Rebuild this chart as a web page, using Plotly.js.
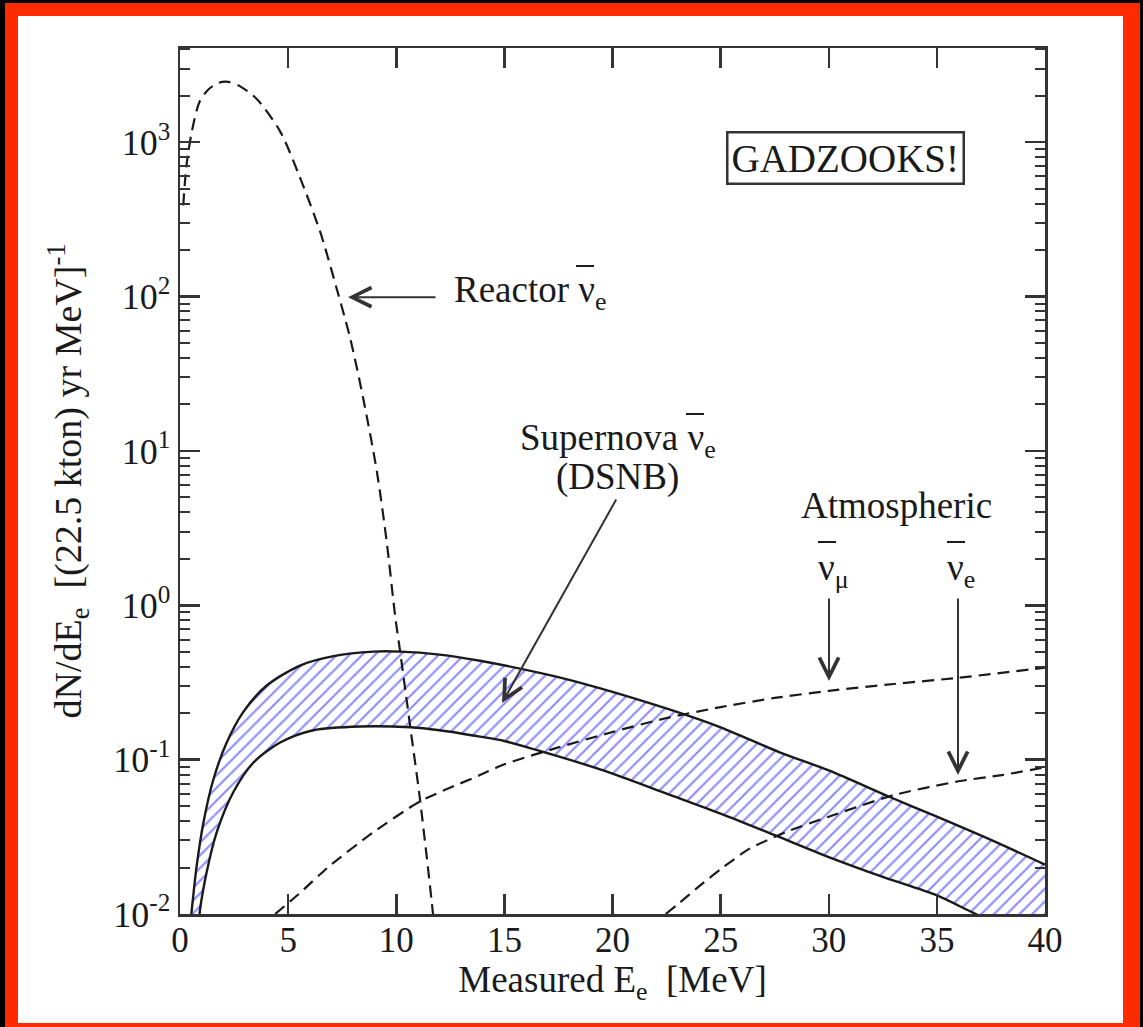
<!DOCTYPE html>
<html>
<head>
<meta charset="utf-8">
<script src="https://cdn.plot.ly/plotly-3.0.1.min.js"></script>
<style>
html,body{margin:0;padding:0;background:#000;}
#chart{width:1143px;height:1027px;}
</style>
</head>
<body>
<div id="chart"></div>
<script>
// ---- data (E in MeV, rate in events per 22.5 kton-yr-MeV) ----
const reactorE    = [0.15, 0.3, 0.55, 0.9, 1.3, 1.8, 2.24, 2.8, 3.55, 4.63, 5.55, 6.48, 7.25, 7.87, 8.48, 9.10, 9.56, 9.95, 10.18, 10.65, 11.1, 11.7, 11.9];
const reactorRate = [389, 708, 1175, 1820, 2188, 2427, 2455, 2291, 1905, 1175, 589, 263, 112, 53.7, 21.6, 7.41, 2.57, 0.85, 0.50, 0.162, 0.055, 0.010, 0.005];

const dsnbHighE    = [0.45, 0.54, 0.77, 1.08, 1.54, 2.16, 2.93, 4.01, 5.55, 7.1, 8.95, 10.18, 12, 13.87, 17, 18.98, 20, 22.98, 25, 27.7, 30, 32.8, 35, 37.5, 40];
const dsnbHighRate = [0.0079, 0.0105, 0.0204, 0.0389, 0.0741, 0.129, 0.204, 0.302, 0.407, 0.468, 0.501, 0.501, 0.479, 0.437, 0.355, 0.302, 0.275, 0.204, 0.162, 0.112, 0.0851, 0.0575, 0.0427, 0.0302, 0.0209];

const dsnbLowE    = [0.85, 0.92, 1.23, 1.70, 2.47, 3.39, 4.63, 6.17, 8.33, 10.65, 12, 13.87, 15, 17.5, 20, 22.5, 25, 27.5, 30, 32.5, 35, 36.8, 38.5, 40];
const dsnbLowRate = [0.0079, 0.0105, 0.0186, 0.0339, 0.0617, 0.0955, 0.129, 0.155, 0.164, 0.162, 0.155, 0.141, 0.132, 0.105, 0.0813, 0.0603, 0.0447, 0.0324, 0.0234, 0.0174, 0.0132, 0.0100, 0.0079, 0.0063];

const atmMuE    = [4.4, 5.5, 6.9, 8.95, 11.1, 13.87, 15, 17.5, 20, 22.5, 25, 27.5, 30, 33, 36, 40];
const atmMuRate = [0.0100, 0.0135, 0.0204, 0.0339, 0.0537, 0.0794, 0.0933, 0.120, 0.151, 0.186, 0.219, 0.251, 0.279, 0.309, 0.339, 0.394];

const atmEE    = [22.46, 23, 24, 25, 26.3, 28, 30, 33, 36, 38, 40];
const atmERate = [0.0100, 0.0115, 0.0151, 0.0195, 0.0263, 0.0339, 0.0427, 0.0589, 0.0724, 0.0794, 0.0891];

const xTickVals   = [0, 5, 10, 15, 20, 25, 30, 35, 40];
const yTickPowers = [-2, -1, 0, 1, 2, 3];
const yTickLabels = yTickPowers.map(p => '10<sup>' + (p < 0 ? '-' + (-p) : p) + '</sup>');

// ---- layout geometry ----
const W = 1143, H = 1027;
const L = 180, R = 1045, T = 48, B = 914;
const px2x = p => (p - L) / (R - L);
const py2y = p => (B - p) / (B - T);
const px2d = p => (p - L) / (R - L) * 40;          // pixel -> MeV
const py2l = p => 3 - (p - 142) / 154.4;           // pixel -> log10(rate)

const FONT = 'Liberation Serif, Times New Roman, serif';
const INK = '#1a1a1a';
const dashStyle = '12px,7px';

const minorVals = [];
yTickPowers.forEach(p => { for (let d = 2; d <= 9; d++) minorVals.push(d * Math.pow(10, p)); });

const traces = [
  { x: dsnbHighE, y: dsnbHighRate, mode: 'lines', line: {color: INK, width: 2.4, shape: 'spline', smoothing: 0.8}, hoverinfo: 'skip' },
  { x: dsnbLowE, y: dsnbLowRate, mode: 'lines', line: {color: INK, width: 2.4, shape: 'spline', smoothing: 0.8}, fill: 'tonexty',
    fillcolor: 'rgba(0,0,0,0)',
    fillpattern: {shape: '/', fgcolor: '#8c8cff', bgcolor: 'white', size: 9, solidity: 0.24}, hoverinfo: 'skip' },
  { x: reactorE, y: reactorRate, mode: 'lines', line: {color: INK, width: 2.2, dash: dashStyle, shape: 'spline', smoothing: 0.8}, hoverinfo: 'skip' },
  { x: atmMuE, y: atmMuRate, mode: 'lines', line: {color: INK, width: 2.2, dash: dashStyle, shape: 'spline', smoothing: 0.6}, hoverinfo: 'skip' },
  { x: atmEE, y: atmERate, mode: 'lines', line: {color: INK, width: 2.2, dash: dashStyle, shape: 'spline', smoothing: 0.6}, hoverinfo: 'skip' }
];

const textFont = {family: FONT, size: 37, color: INK};
const arrowCommon = {text: '', showarrow: true, arrowhead: 5, arrowsize: 1.9, arrowwidth: 2,
  arrowcolor: '#333', axref: 'x', ayref: 'y', xref: 'x', yref: 'y', standoff: 0};

const annotations = [
  {xref: 'x', yref: 'y', x: px2d(845), y: py2l(158), text: 'GADZOOKS!', showarrow: false,
   font: {family: FONT, size: 39, color: INK},
   bordercolor: '#333', borderwidth: 2.5, borderpad: 3, bgcolor: 'white'},
  {xref: 'x', yref: 'y', x: px2d(452), y: py2l(292), xanchor: 'left', text: 'Reactor ν<sub>e</sub>', showarrow: false, font: textFont},
  {xref: 'x', yref: 'y', x: px2d(518), y: py2l(440), xanchor: 'left', text: 'Supernova ν<sub>e</sub>', showarrow: false, font: textFont},
  {xref: 'x', yref: 'y', x: px2d(617), y: py2l(477), text: '(DSNB)', showarrow: false, font: textFont},
  {xref: 'x', yref: 'y', x: px2d(896), y: py2l(505), text: 'Atmospheric', showarrow: false, font: textFont},
  {xref: 'x', yref: 'y', x: px2d(816), y: py2l(570), xanchor: 'left', text: 'ν<sub>μ</sub>', showarrow: false, font: textFont},
  {xref: 'x', yref: 'y', x: px2d(945), y: py2l(570), xanchor: 'left', text: 'ν<sub>e</sub>', showarrow: false, font: textFont},
  Object.assign({x: px2d(348), y: py2l(297), ax: px2d(437), ay: py2l(297)}, arrowCommon),
  Object.assign({x: px2d(502), y: py2l(703), ax: px2d(617), ay: py2l(498)}, arrowCommon),
  Object.assign({x: px2d(829), y: py2l(681), ax: px2d(829), ay: py2l(597)}, arrowCommon),
  Object.assign({x: px2d(958), y: py2l(775), ax: px2d(958), ay: py2l(597)}, arrowCommon)
];

// overbars of the anti-neutrino symbols (pixel centres)
const barCentres = [[585, 266], [695, 414], [827, 542], [956, 542]];
const bars = barCentres.map(([cx, cy]) => ({type: 'line', xref: 'paper', yref: 'paper',
  x0: px2x(cx - 9), x1: px2x(cx + 9), y0: py2y(cy), y1: py2y(cy), line: {color: INK, width: 2}}));

const shapes = [
  {type: 'rect', xref: 'paper', yref: 'paper', layer: 'below',
   x0: px2x(5), x1: px2x(1140), y0: py2y(1027), y1: py2y(3), fillcolor: '#fe2a00', line: {width: 0}},
  {type: 'rect', xref: 'paper', yref: 'paper', layer: 'below',
   x0: px2x(18), x1: px2x(1123), y0: py2y(1023), y1: py2y(16), fillcolor: '#ffffff', line: {width: 0}}
].concat(bars);

const layout = {
  width: W, height: H,
  margin: {l: L, r: W - R, t: T, b: H - B, pad: 0},
  paper_bgcolor: '#000', plot_bgcolor: '#fff',
  showlegend: false,
  font: {family: FONT, color: INK, size: 35},
  xaxis: {
    range: [0, 40], tickmode: 'array', tickvals: xTickVals,
    ticks: 'inside', ticklen: 20, tickwidth: 2.5, tickcolor: '#333',
    showline: true, linewidth: 2.5, linecolor: '#333', mirror: 'ticks',
    showgrid: false, zeroline: false, ticklabelstandoff: -7,
    tickfont: {family: FONT, size: 35, color: INK},
    title: {text: 'Measured E<sub>e</sub>  [MeV]', font: {family: FONT, size: 37, color: INK}, standoff: 0}
  },
  yaxis: {
    type: 'log', range: [-2, 3.61],
    tickmode: 'array', tickvals: yTickPowers.map(p => Math.pow(10, p)), ticktext: yTickLabels,
    ticks: 'inside', ticklen: 20, tickwidth: 2.5, tickcolor: '#333',
    minor: {tickmode: 'array', tickvals: minorVals, ticks: 'inside', ticklen: 10, tickwidth: 2, tickcolor: '#333'},
    showline: true, linewidth: 2.5, linecolor: '#333', mirror: 'ticks',
    showgrid: false, zeroline: false,
    tickfont: {family: FONT, size: 36, color: INK},
    title: {text: 'dN/dE<sub>e</sub>  [(22.5 kton) yr MeV]<sup>-1</sup>', font: {family: FONT, size: 38, color: INK}, standoff: 20}
  },
  annotations: annotations,
  shapes: shapes
};

Plotly.newPlot('chart', traces, layout, {displayModeBar: false, staticPlot: true});
</script>
</body>
</html>
